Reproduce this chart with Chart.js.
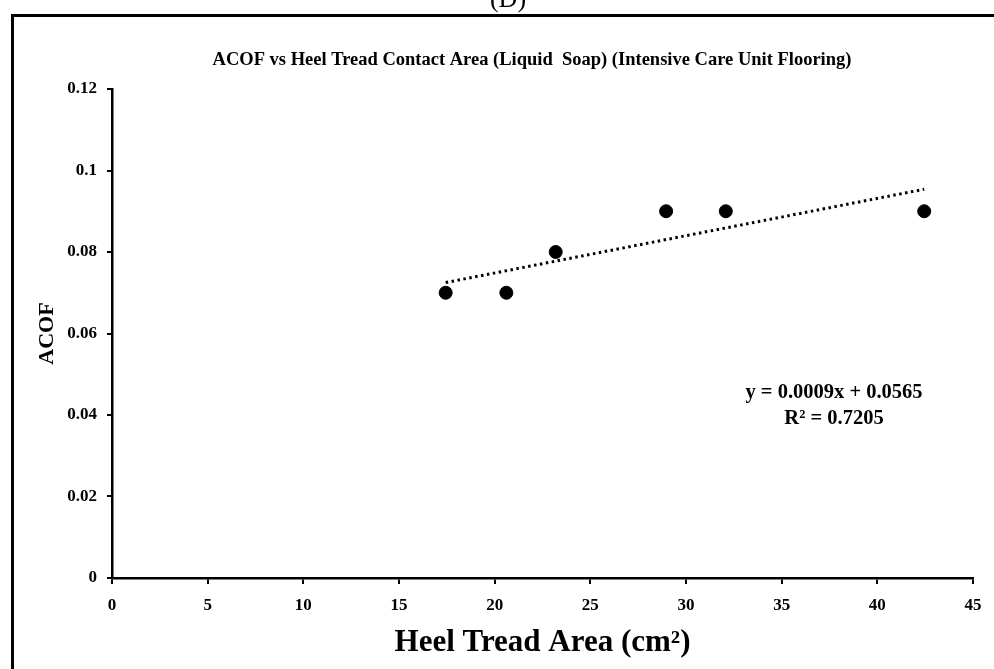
<!DOCTYPE html>
<html>
<head>
<meta charset="utf-8">
<script src="https://cdn.jsdelivr.net/npm/chart.js@4"></script>
<style>
html,body{margin:0;padding:0;background:#fff;}
#wrap{width:994px;height:669px;position:relative;overflow:hidden;}
</style>
</head>
<body>
<div id="wrap"><canvas id="c" width="994" height="669"></canvas></div>
<script>
// ---- data ----
const heelArea = [17.44, 20.61, 23.19, 28.96, 32.08, 42.45];
const acof = [0.07, 0.07, 0.08, 0.09, 0.09, 0.09];
const trendX = [17.44, 42.45];
const trendY = [0.0725, 0.0954];
const xTickValues = [0, 5, 10, 15, 20, 25, 30, 35, 40, 45];
const yTickLabels = ['0', '0.02', '0.04', '0.06', '0.08', '0.1', '0.12'];
const chartTitle = 'ACOF vs Heel Tread Contact Area (Liquid  Soap) (Intensive Care Unit Flooring)';
const xTitle = 'Heel Tread Area (cm\u00B2)';
const yTitle = 'ACOF';
const equationLines = ['y = 0.0009x + 0.0565', 'R\u00B2 = 0.7205'];
const panelLabel = '(D)';

const SERIF = "'Liberation Serif', 'Times New Roman', 'DejaVu Serif', serif";

const decorPlugin = {
  id: 'decor',
  beforeDraw(chart) {
    const ctx = chart.ctx;
    ctx.save();
    ctx.fillStyle = '#fff';
    ctx.fillRect(0, 0, chart.width, chart.height);
    // frame
    ctx.strokeStyle = '#000';
    ctx.lineWidth = 3;
    ctx.beginPath();
    ctx.moveTo(12.5, chart.height);
    ctx.lineTo(12.5, 15.5);
    ctx.lineTo(chart.width, 15.5);
    ctx.stroke();
    // panel label (cut at top)
    ctx.fillStyle = '#000';
    ctx.font = "26px " + SERIF;
    ctx.textAlign = 'center';
    ctx.textBaseline = 'alphabetic';
    ctx.fillText(panelLabel, 508, 7);
    ctx.restore();
  },
  afterDraw(chart) {
    const ctx = chart.ctx;
    ctx.save();
    ctx.fillStyle = '#000';
    ctx.textAlign = 'center';
    ctx.textBaseline = 'middle';
    ctx.font = "bold 18.5px " + SERIF;
    ctx.fillText(chartTitle, 532, 60);
    ctx.font = "bold 20.5px " + SERIF;
    ctx.fillText(equationLines[0], 834, 393);
    ctx.fillText(equationLines[1], 834, 419);
    ctx.restore();
  }
};

new Chart(document.getElementById('c'), {
  type: 'scatter',
  data: {
    datasets: [
      {
        label: 'ACOF',
        data: heelArea.map((x, i) => ({x: x, y: acof[i]})),
        backgroundColor: '#000',
        borderColor: '#000',
        pointRadius: 6.5,
        pointHoverRadius: 6.5,
        showLine: false
      },
      {
        label: 'Trend',
        type: 'line',
        data: trendX.map((x, i) => ({x: x, y: trendY[i]})),
        borderColor: '#000',
        borderWidth: 3,
        borderDash: [2.5, 3.5],
        pointRadius: 0,
        fill: false,
        showLine: true
      }
    ]
  },
  options: {
    responsive: false,
    animation: false,
    devicePixelRatio: 1,
    layout: {padding: {left: 0, right: 21, top: 89, bottom: 0}},
    plugins: {
      legend: {display: false},
      tooltip: {enabled: false},
      title: {display: false}
    },
    scales: {
      x: {
        type: 'linear',
        min: 0,
        max: 45,
        afterBuildTicks: (s) => { s.ticks = xTickValues.map(v => ({value: v})); },
        afterFit: (s) => { s.height = 91; },
        ticks: {
          color: '#000',
          font: {family: SERIF, size: 17, weight: 'bold'},
          padding: 11,
          maxRotation: 0,
          autoSkip: false
        },
        grid: {drawOnChartArea: false, drawTicks: true, tickLength: 6, color: '#000', lineWidth: 2},
        border: {color: '#000', width: 2.5},
        title: {
          display: true,
          text: xTitle,
          color: '#000',
          font: {family: SERIF, size: 31, weight: 'bold'},
          padding: {top: 0, bottom: 7}
        }
      },
      y: {
        type: 'linear',
        min: 0,
        max: 0.12,
        afterBuildTicks: (s) => { s.ticks = yTickLabels.map(t => ({value: parseFloat(t)})); },
        afterFit: (s) => { s.width = 112; },
        ticks: {
          color: '#000',
          font: {family: SERIF, size: 17, weight: 'bold'},
          padding: 10,
          autoSkip: false,
          callback: (v, i) => yTickLabels[i]
        },
        grid: {drawOnChartArea: false, drawTicks: true, tickLength: 5, color: '#000', lineWidth: 2},
        border: {color: '#000', width: 2.5},
        title: {
          display: true,
          text: yTitle,
          color: '#000',
          font: {family: SERIF, size: 22, weight: 'bold'},
          padding: {top: 34, bottom: 0}
        }
      }
    }
  },
  plugins: [decorPlugin]
});
</script>
</body>
</html>
